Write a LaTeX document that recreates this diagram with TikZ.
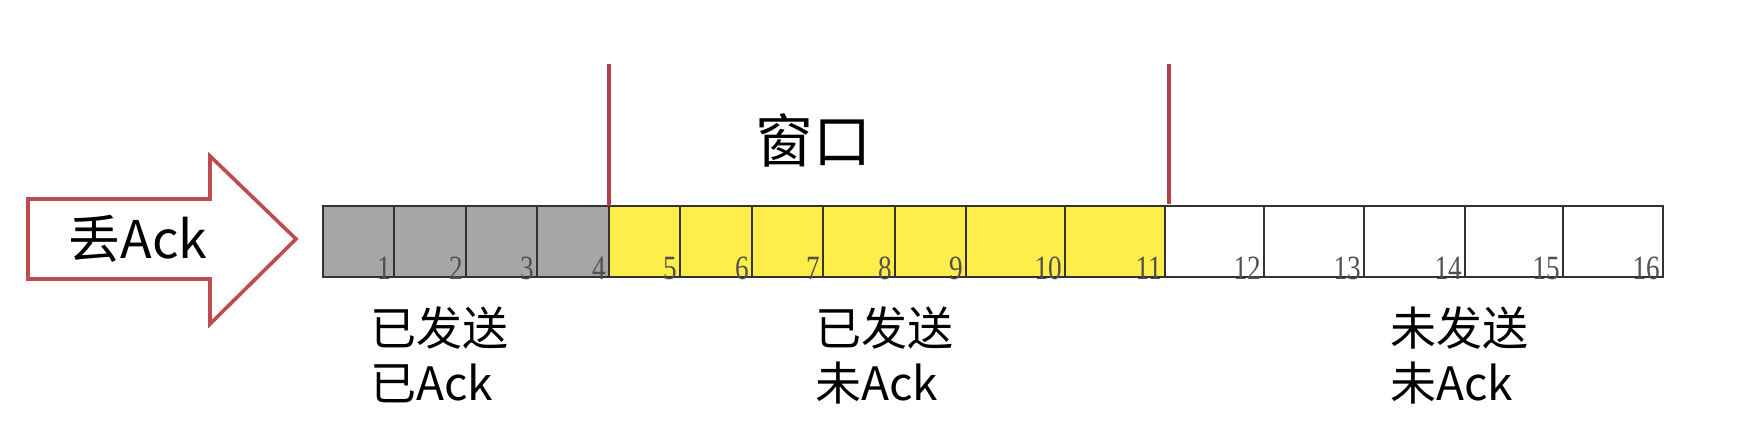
\documentclass[tikz,border=0pt]{standalone}
\usepackage{fontspec}
\setmainfont{Liberation Serif}
\newfontfamily\cjk{Noto Sans CJK SC}
\definecolor{cellgray}{RGB}{166,166,166}
\definecolor{cellyellow}{RGB}{255,237,74}
\definecolor{winred}{RGB}{178,62,74}
\definecolor{arrred}{RGB}{190,75,80}
\definecolor{numgray}{RGB}{80,80,80}
\definecolor{cellline}{RGB}{50,50,50}
\begin{document}
\begin{tikzpicture}[x=1pt,y=-1pt,
  cellbox/.style={draw=cellline, line width=2pt, inner sep=0pt, outer sep=0pt, anchor=north west, minimum height=71pt},
  numlab/.style={font=\fontsize{34}{34}\selectfont, text=numgray, inner sep=0pt, anchor=south east},
  cnlab/.style={font=\cjk\fontsize{46}{55}\selectfont, align=left, inner sep=0pt, anchor=north west},
  winline/.style={draw=winred, line width=3.2pt}]
\useasboundingbox (0,0) rectangle (1752,446);
% arrow
\draw[arrred, line width=3.6pt, fill=white, line join=miter]
  (28,199) -- (210,199) -- (210,156) -- (296,239) -- (210,324) -- (210,279) -- (28,279) -- cycle;
\node[font=\cjk\fontsize{52}{52}\selectfont, inner sep=0pt] (drop) at (138,239) {丢Ack};
% cells
\foreach \i/\a/\b/\f in {1/323/394/cellgray,2/394/466/cellgray,3/466/537/cellgray,4/537/609/cellgray,
  5/609/680/cellyellow,6/680/752/cellyellow,7/752/823/cellyellow,8/823/895/cellyellow,9/895/966/cellyellow,
  10/966/1065/cellyellow,11/1065/1165/cellyellow,
  12/1165/1264/white,13/1264/1364/white,14/1364/1465/white,15/1465/1563/white,16/1563/1663/white}{
  \node[cellbox, fill=\f, minimum width={(\b-\a)*1pt}] (c\i) at (\a,206) {};
  \node[numlab] (n\i) at ([xshift=-3pt,yshift=-3pt]c\i.south east) {\scalebox{0.8}[1]{\i}};
}
% window
\coordinate (wl) at (609,64);
\coordinate (wr) at (1169,64);
\draw[winline] (wl) -- (c5.north west);
\draw[winline] (wr) -- ([xshift=4pt,yshift=2pt]c11.north east);
\node[font=\cjk\fontsize{58}{58}\selectfont, inner sep=0pt] (win) at (813,140) {窗口};
% labels
\node[cnlab] (l1) at (370,306) {已发送\\已Ack};
\node[cnlab] (l2) at (815,306) {已发送\\未Ack};
\node[cnlab] (l3) at (1390,306) {未发送\\未Ack};
\end{tikzpicture}
\end{document}
